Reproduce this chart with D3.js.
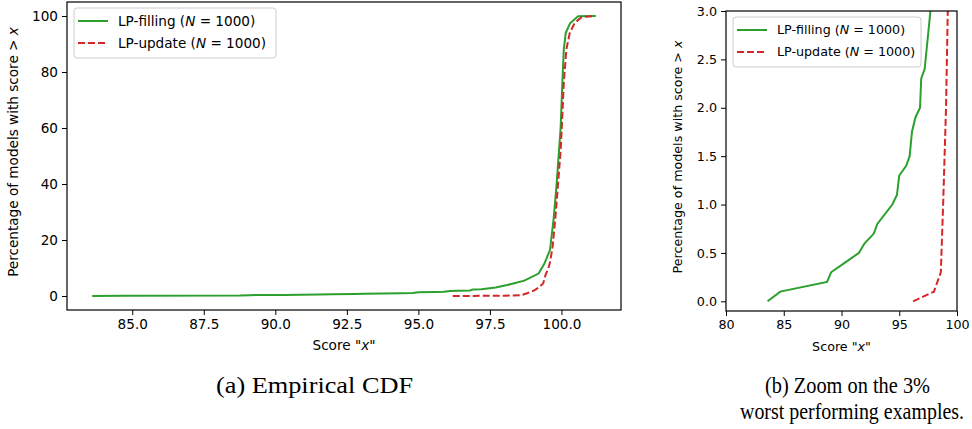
<!DOCTYPE html>
<html>
<head>
<meta charset="utf-8">
<script src="https://cdn.jsdelivr.net/npm/d3@7"></script>
<style>
    body { margin: 0; background: #fff; }
    svg { display: block; }
    text { font-family: "DejaVu Sans", sans-serif; fill: #000; }
    .caption { font-family: "Liberation Serif", "Times New Roman", serif; font-size: 24px; }
</style>
</head>
<body>
<div id="chart"></div>
<script>
// green: LP-filling, red: LP-update  (score, percentage)
const fillingX = [83.6, 84.7, 88.75, 89.1, 90.3, 91.5, 92.0, 92.8, 93.1, 94.4, 94.8, 95.0, 95.6, 95.9, 96.1, 96.4, 96.8, 96.9, 97.2, 97.7, 98.1, 98.7, 99.2, 99.4, 99.6, 99.73, 99.83, 99.9, 99.97, 100.03, 100.08, 100.15, 100.3, 100.58, 101.2];
const fillingY = [0, 0.1, 0.2, 0.3, 0.4, 0.5, 0.6, 0.7, 0.8, 1.0, 1.1, 1.3, 1.4, 1.5, 1.75, 1.9, 2.0, 2.3, 2.4, 3.0, 3.9, 5.5, 8.0, 11.5, 16.5, 28, 40, 50, 60, 76, 88, 94, 97.4, 99.9, 100];
const updateX = [96.2, 98.0, 98.6, 98.8, 99.05, 99.2, 99.36, 99.45, 99.53, 99.6, 99.69, 99.79, 99.88, 99.97, 100.01, 100.08, 100.17, 100.29, 100.46, 100.7, 101.15];
const updateY = [0, 0.1, 0.3, 1.0, 2.0, 3.0, 4.5, 7.7, 9.5, 12, 17.6, 28.3, 40, 52, 60, 76, 88, 94, 97.5, 99.6, 100];

const seriesNames = ["LP-filling", "LP-update"];
const seriesN = 1000;

const leftXTicks = [85, 87.5, 90, 92.5, 95, 97.5, 100];
const leftYTicks = [0, 20, 40, 60, 80, 100];
const rightXTicks = [80, 85, 90, 95, 100];
const rightYTicks = [0, 0.5, 1.0, 1.5, 2.0, 2.5, 3.0];

const captionA = ["(a) Empirical CDF"];
const captionB = ["(b) Zoom on the 3%", "worst performing examples."];

const W = 972, H = 429;
const svg = d3.select("#chart").append("svg").attr("width", W).attr("height", H);

const series = [
    { name: seriesNames[0], pts: fillingX.map((x, i) => [x, fillingY[i]]), color: "#2ca02c", dash: null },
    { name: seriesNames[1], pts: updateX.map((x, i) => [x, updateY[i]]), color: "#d62728", dash: "7,3" }
];

function panel(o) {
    const box = o.box, fs = o.fs;
    const iw = box.r - box.l, ih = box.b - box.t;
    const g = svg.append("g").attr("transform", `translate(${box.l},${box.t})`);
    const x = d3.scaleLinear().domain(o.xDom).range([0, iw]);
    const y = d3.scaleLinear().domain(o.yDom).range([ih, 0]);

    g.append("clipPath").attr("id", o.id).append("rect").attr("width", iw).attr("height", ih);

    const line = d3.line().x(d => x(d[0])).y(d => y(d[1]));
    const lines = g.append("g").attr("clip-path", `url(#${o.id})`);
    series.forEach(s => {
        lines.append("path").datum(s.pts).attr("d", line)
            .attr("fill", "none").attr("stroke", s.color).attr("stroke-width", 2)
            .attr("stroke-dasharray", s.dash);
    });

    const xa = g.append("g").attr("transform", `translate(0,${ih})`)
        .call(d3.axisBottom(x).tickValues(o.xTicks).tickFormat(o.xFmt).tickSize(5).tickPadding(4).tickSizeOuter(0));
    const ya = g.append("g")
        .call(d3.axisLeft(y).tickValues(o.yTicks).tickFormat(o.yFmt).tickSize(5).tickPadding(4).tickSizeOuter(0));
    [xa, ya].forEach(a => {
        a.attr("font-family", null).attr("font-size", null);
        a.selectAll("text").attr("font-size", fs);
        a.select(".domain").remove();
        a.selectAll("line").attr("stroke", "#000").attr("stroke-width", 1);
    });

    g.append("rect").attr("width", iw).attr("height", ih)
        .attr("fill", "none").attr("stroke", "#000").attr("stroke-width", 1.2);

    const xl = g.append("text").attr("x", iw / 2).attr("y", ih + 40)
        .attr("text-anchor", "middle").attr("font-size", fs);
    xl.append("tspan").text('Score "');
    xl.append("tspan").attr("font-style", "italic").text("x");
    xl.append("tspan").text('"');

    const yl = g.append("text").attr("transform", `translate(${o.ylabX},${ih / 2 - 4}) rotate(-90)`)
        .attr("text-anchor", "middle").attr("font-size", fs)
        .attr("dominant-baseline", "middle");
    yl.append("tspan").text("Percentage of models with score  > ");
    yl.append("tspan").attr("font-style", "italic").text("x");

    // legend
    const lg = g.append("g").attr("transform", "translate(7,6)");
    lg.append("rect").attr("width", o.legW).attr("height", 50).attr("rx", 3)
        .attr("fill", "#fff").attr("fill-opacity", 0.8).attr("stroke", "#ccc");
    series.forEach((s, i) => {
        const yy = 13 + i * 22;
        lg.append("line").attr("x1", 4).attr("x2", 34).attr("y1", yy).attr("y2", yy)
            .attr("stroke", s.color).attr("stroke-width", 2).attr("stroke-dasharray", s.dash);
        const t = lg.append("text").attr("x", 44).attr("y", yy).attr("dy", "0.35em").attr("font-size", fs);
        t.append("tspan").text(s.name + " (");
        t.append("tspan").attr("font-style", "italic").text("N");
        t.append("tspan").text(" = " + seriesN + ")");
    });
}

panel({ id: "clipA", box: { l: 67, r: 621, t: 2, b: 310 }, xDom: [82.72, 102.08], yDom: [-5, 105],
    xTicks: leftXTicks, yTicks: leftYTicks, xFmt: d3.format(".1f"), yFmt: d3.format("d"),
    fs: 13.6, ylabX: -53, legW: 202 });
panel({ id: "clipB", box: { l: 726, r: 957, t: 11, b: 311 }, xDom: [80, 100], yDom: [-0.1, 3],
    xTicks: rightXTicks, yTicks: rightYTicks, xFmt: d3.format("d"), yFmt: d3.format(".1f"),
    fs: 12.7, ylabX: -48, legW: 188 });

svg.append("text").attr("class", "caption").attr("x", 216).attr("y", 393)
    .attr("textLength", 197).attr("lengthAdjust", "spacingAndGlyphs").text(captionA[0]);
const capB = [{ x: 930, y: 393, w: 165, fs: 24 }, { x: 964, y: 419, w: 224, fs: 23 }];
captionB.forEach((c, i) => {
    svg.append("text").attr("class", "caption").attr("x", capB[i].x).attr("y", capB[i].y)
        .attr("text-anchor", "end").style("font-size", capB[i].fs + "px")
        .attr("textLength", capB[i].w).attr("lengthAdjust", "spacingAndGlyphs").text(c);
});
</script>
</body>
</html>
